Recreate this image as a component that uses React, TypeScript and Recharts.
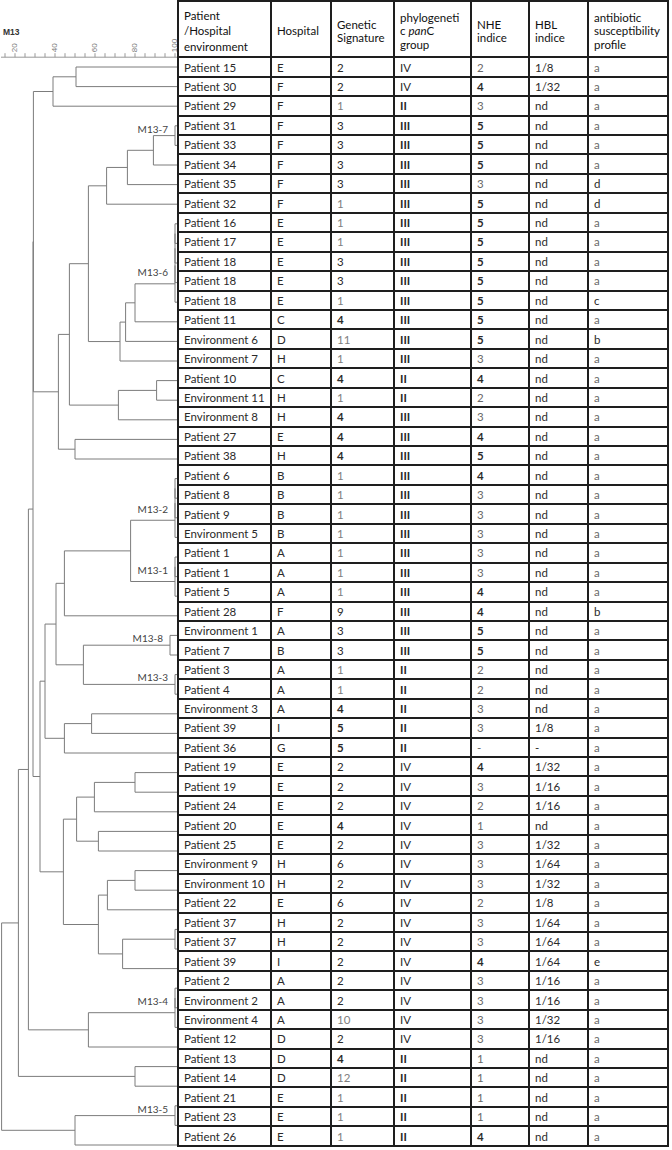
import { ComposedChart, XAxis, YAxis, ReferenceLine, Scatter } from 'recharts';

// table columns, one entry per dendrogram leaf (top to bottom)
const isolates = [
    'Patient 15', 'Patient 30', 'Patient 29', 'Patient 31', 'Patient 33', 'Patient 34', 'Patient 35', 'Patient 32',
    'Patient 16', 'Patient 17', 'Patient 18', 'Patient 18', 'Patient 18', 'Patient 11', 'Environment 6', 'Environment 7',
    'Patient 10', 'Environment 11', 'Environment 8', 'Patient 27', 'Patient 38', 'Patient 6', 'Patient 8', 'Patient 9',
    'Environment 5', 'Patient 1', 'Patient 1', 'Patient 5', 'Patient 28', 'Environment 1', 'Patient 7', 'Patient 3',
    'Patient 4', 'Environment 3', 'Patient 39', 'Patient 36', 'Patient 19', 'Patient 19', 'Patient 24', 'Patient 20',
    'Patient 25', 'Environment 9', 'Environment 10', 'Patient 22', 'Patient 37', 'Patient 37', 'Patient 39', 'Patient 2',
    'Environment 2', 'Environment 4', 'Patient 12', 'Patient 13', 'Patient 14', 'Patient 21', 'Patient 23', 'Patient 26',
];
const hospitals = [
    'E', 'F', 'F', 'F', 'F', 'F', 'F', 'F', 'E', 'E', 'E', 'E', 'E', 'C', 'D', 'H',
    'C', 'H', 'H', 'E', 'H', 'B', 'B', 'B', 'B', 'A', 'A', 'A', 'F', 'A', 'B', 'A',
    'A', 'A', 'I', 'G', 'E', 'E', 'E', 'E', 'E', 'H', 'H', 'E', 'H', 'H', 'I', 'A',
    'A', 'A', 'D', 'D', 'D', 'E', 'E', 'E',
];
const signatures = [
    '2', '2', '1', '3', '3', '3', '3', '1', '1', '1', '3', '3', '1', '4', '11', '1',
    '4', '1', '4', '4', '4', '1', '1', '1', '1', '1', '1', '1', '9', '3', '3', '1',
    '1', '4', '5', '5', '2', '2', '2', '4', '2', '6', '2', '6', '2', '2', '2', '2',
    '2', '10', '2', '4', '12', '1', '1', '1',
];
const panCGroups = [
    'IV', 'IV', 'II', 'III', 'III', 'III', 'III', 'III', 'III', 'III', 'III', 'III', 'III', 'III', 'III', 'III',
    'II', 'II', 'III', 'III', 'III', 'III', 'III', 'III', 'III', 'III', 'III', 'III', 'III', 'III', 'III', 'II',
    'II', 'II', 'II', 'II', 'IV', 'IV', 'IV', 'IV', 'IV', 'IV', 'IV', 'IV', 'IV', 'IV', 'IV', 'IV',
    'IV', 'IV', 'IV', 'II', 'II', 'II', 'II', 'II',
];
const nheIndex = [
    '2', '4', '3', '5', '5', '5', '3', '5', '5', '5', '5', '5', '5', '5', '5', '3',
    '4', '2', '3', '4', '5', '4', '3', '3', '3', '3', '3', '4', '4', '5', '5', '2',
    '2', '3', '3', '-', '4', '3', '2', '1', '3', '3', '3', '2', '3', '3', '4', '3',
    '3', '3', '3', '1', '1', '1', '1', '4',
];
const hblIndex = [
    '1/8', '1/32', 'nd', 'nd', 'nd', 'nd', 'nd', 'nd', 'nd', 'nd', 'nd', 'nd', 'nd', 'nd', 'nd', 'nd',
    'nd', 'nd', 'nd', 'nd', 'nd', 'nd', 'nd', 'nd', 'nd', 'nd', 'nd', 'nd', 'nd', 'nd', 'nd', 'nd',
    'nd', 'nd', '1/8', '-', '1/32', '1/16', '1/16', 'nd', '1/32', '1/64', '1/32', '1/8', '1/64', '1/64', '1/64', '1/16',
    '1/16', '1/32', '1/16', 'nd', 'nd', 'nd', 'nd', 'nd',
];
const profiles = [
    'a', 'a', 'a', 'a', 'a', 'a', 'd', 'd', 'a', 'a', 'a', 'a', 'c', 'a', 'b', 'a',
    'a', 'a', 'a', 'a', 'a', 'a', 'a', 'a', 'a', 'a', 'a', 'a', 'b', 'a', 'a', 'a',
    'a', 'a', 'a', 'a', 'a', 'a', 'a', 'a', 'a', 'a', 'a', 'a', 'a', 'a', 'e', 'a',
    'a', 'a', 'a', 'a', 'a', 'a', 'a', 'a',
];

// dendrogram: [node, child, child, similarity %]; numeric children are table rows (1-based)
type Ref = number | string;
const merges: [string, Ref, Ref, number][] = [
    ['m1', 1, 2, 50.5], ['m2', 'm1', 3, 39],
    ['m3', 4, 5, 100], ['m4', 'm3', 6, 89.2], ['m5', 'm4', 7, 76.2], ['m6', 'm5', 8, 65.8],
    ['m7', 9, 10, 100], ['m8', 'm7', 11, 100], ['m9', 'm8', 12, 100], ['m10', 'm9', 13, 100],
    ['m11', 'm10', 14, 80], ['m12', 'm11', 15, 75.3], ['m13', 'm12', 16, 72.5], ['m14', 'm6', 'm13', 56.7],
    ['m15', 17, 18, 90.8], ['m16', 'm15', 19, 71.7], ['m17', 'm14', 'm16', 47.2],
    ['m18', 20, 21, 50], ['m19', 'm17', 'm18', 41.7], ['m20', 'm2', 'm19', 29.2],
    ['m21', 22, 23, 100], ['m22', 'm21', 24, 100], ['m23', 'm22', 25, 100],
    ['m24', 26, 27, 100], ['m25', 'm24', 28, 100], ['m26', 'm23', 'm25', 77.8], ['m27', 'm26', 29, 44.7],
    ['m28', 30, 31, 97.5], ['m29', 32, 33, 100], ['m30', 'm28', 'm29', 54.2], ['m31', 'm27', 'm30', 40.5],
    ['m32', 34, 35, 58.3], ['m33', 'm32', 36, 44.7], ['m34', 'm31', 'm33', 35],
    ['m35', 37, 38, 80], ['m36', 'm35', 39, 59.7], ['m37', 40, 41, 61.7], ['m38', 'm36', 'm37', 50.8],
    ['m39', 42, 43, 80], ['m40', 'm39', 44, 66.2], ['m41', 45, 46, 100], ['m42', 'm41', 47, 73.8],
    ['m43', 'm40', 'm42', 61.7], ['m44', 'm38', 'm43', 44.2], ['m45', 'm34', 'm44', 32.5],
    ['m46', 'm20', 'm45', 29.0],
    ['m47', 48, 49, 100], ['m48', 'm47', 50, 100], ['m49', 'm48', 51, 56.7], ['m50', 'm46', 'm49', 26.7],
    ['m51', 52, 53, 80], ['m52', 'm50', 'm51', 21.7],
    ['m53', 54, 55, 100], ['m54', 'm53', 56, 50], ['m55', 'm52', 'm54', 13.3],
];

const clusterNames = ['M13-7', 'M13-6', 'M13-2', 'M13-1', 'M13-8', 'M13-3', 'M13-4', 'M13-5'];
const clusterNodes = ['m3', 'm10', 'm23', 'm25', 'm28', 'm29', 'm48', 'm53'];

const scaleTicks = [15, 20, 25, 30, 35, 40, 45, 50, 55, 60, 65, 70, 75, 80, 85, 90, 95, 100];

const LEAF_END = 101.5;
const ROW_H = 19.44;
const HEAD_H = 56.3;
const LEAF_PITCH = 19.6;
const TOP = 57.2;
const LINE = '#7c7c7c';
const FONT = 'Lato, "Open Sans", sans-serif';

function buildTree() {
    const byId = new Map(merges.map((m) => [m[0], m]));
    const pos = new Map<string, { x: number; y: number; n: number }>();
    const get = (r: Ref): { x: number; y: number; n: number } => {
        if (typeof r === 'number') return { x: LEAF_END, y: r, n: 1 };
        const hit = pos.get(r);
        if (hit) return hit;
        const [, a, b, s] = byId.get(r)!;
        const pa = get(a);
        const pb = get(b);
        const p = { x: s, y: (pa.y + pb.y) / 2, n: pa.n + pb.n };
        pos.set(r, p);
        return p;
    };
    const segs: { x: number; y: number }[][] = [];
    merges.forEach(([, a, b, s]) => {
        const pa = get(a);
        const pb = get(b);
        segs.push([{ x: s, y: pa.y }, { x: s, y: pb.y }]);
        if (pa.x > s) segs.push([{ x: s, y: pa.y }, { x: pa.x, y: pa.y }]);
        if (pb.x > s) segs.push([{ x: s, y: pb.y }, { x: pb.x, y: pb.y }]);
    });
    const labels = clusterNodes.map((id, i) => ({ ...get(id), name: clusterNames[i] }));
    return { segs, labels };
}

const ScaleTick = (props: any) => {
    const { x, y, payload } = props;
    if (payload.value % 20 !== 0) return <g />;
    return (
        <text
            x={x}
            y={y}
            transform={`rotate(-90 ${x} ${y})`}
            textAnchor="start"
            dominantBaseline="central"
            fontSize={8}
            fontFamily="'Liberation Sans', Arial, sans-serif"
            fill="#7a7a7a"
        >
            {payload.value}
        </text>
    );
};

const ClusterLabel = (props: any) => {
    const { cx, cy, payload } = props;
    return (
        <text
            x={cx - 7}
            y={cy - (payload.n > 2 ? 11.5 : 7)}
            textAnchor="end"
            dominantBaseline="central"
            fontSize={10}
            fontFamily={FONT}
            fill="#444"
        >
            {payload.name}
        </text>
    );
};

function Dendrogram() {
    const { segs, labels } = buildTree();
    const yMax = 56.25;
    const plotH = (yMax - 0.5) * LEAF_PITCH;
    return (
        <ComposedChart width={178} height={1150} margin={{ top: TOP - 30, right: 0, bottom: 1150 - TOP - plotH, left: 1 }}>
            <XAxis
                type="number"
                dataKey="x"
                orientation="top"
                domain={[13, LEAF_END]}
                allowDataOverflow
                ticks={scaleTicks}
                interval={0}
                height={30}
                tickSize={4}
                tickMargin={1}
                tick={<ScaleTick />}
                axisLine={{ stroke: '#999' }}
                tickLine={{ stroke: '#999' }}
            />
            <YAxis type="number" dataKey="y" domain={[0.5, yMax]} reversed hide allowDataOverflow />
            {segs.map((s, i) => (
                <ReferenceLine key={i} segment={s} stroke={LINE} strokeWidth={1} ifOverflow="visible" />
            ))}
            <Scatter data={labels} shape={<ClusterLabel />} isAnimationActive={false} />
        </ComposedChart>
    );
}

const colWidths = [93, 60, 63, 77, 58, 59, 80];

const cellStyle = (value: string, col: number): React.CSSProperties => {
    let weight = 400;
    let color = '#2a2a2a';
    if (col === 2) {
        if (value === '4' || value === '5') weight = 700;
        if (['1', '10', '11', '12'].includes(value)) color = '#808080';
    }
    if (col === 3 && value !== 'IV') weight = 700;
    if (col === 4) {
        if (value === '4' || value === '5') weight = 700;
        else color = '#6a6a6a';
    }
    if (col === 6 && value === 'a') color = '#6a6a6a';
    return { fontWeight: weight, color };
};

function DataTable() {
    const border = '2px solid #1e1e1e';
    const header = [
        <span style={{ lineHeight: '15.5px' }}>Patient<br />/Hospital<br />environment</span>,
        <span>Hospital</span>,
        <span>Genetic<br />Signature</span>,
        <span>phylogeneti<br />c <i>pan</i>C<br />group</span>,
        <span>NHE<br />indice</span>,
        <span>HBL<br />indice</span>,
        <span>antibiotic<br />susceptibility<br />profile</span>,
    ];
    const columns = [isolates, hospitals, signatures, panCGroups, nheIndex, hblIndex, profiles];
    const cells: React.ReactNode[] = [];
    header.forEach((h, c) =>
        cells.push(
            <div
                key={`h${c}`}
                style={{
                    borderRight: border,
                    borderBottom: border,
                    display: 'flex',
                    alignItems: 'center',
                    paddingLeft: 5,
                    paddingTop: 4,
                    lineHeight: '13.5px',
                    color: '#111',
                    boxSizing: 'border-box',
                }}
            >
                {h}
            </div>
        )
    );
    isolates.forEach((_, r) =>
        columns.forEach((col, c) =>
            cells.push(
                <div
                    key={`${r}-${c}`}
                    style={{
                        borderRight: border,
                        borderBottom: border,
                        display: 'flex',
                        alignItems: 'center',
                        paddingLeft: 5,
                        whiteSpace: 'nowrap',
                        overflow: 'hidden',
                        boxSizing: 'border-box',
                        ...cellStyle(col[r], c),
                    }}
                >
                    {col[r]}
                </div>
            )
        )
    );
    return (
        <div
            style={{
                position: 'absolute',
                left: 177,
                top: 0,
                display: 'grid',
                gridTemplateColumns: colWidths.map((w) => `${w}px`).join(' '),
                gridTemplateRows: `${HEAD_H}px repeat(${isolates.length}, ${ROW_H}px)`,
                borderLeft: border,
                borderTop: border,
                fontFamily: FONT,
                fontSize: 11.5,
                background: '#fff',
            }}
        >
            {cells}
        </div>
    );
}

export default function App() {
    return (
        <div style={{ position: 'absolute', left: 0, top: 0, width: 672, height: 1150, background: '#fff', overflow: 'hidden' }}>
            <div
                style={{
                    position: 'absolute',
                    left: 3,
                    top: 27,
                    fontFamily: "'Liberation Sans', Arial, sans-serif",
                    fontWeight: 700,
                    fontSize: 8.5,
                    color: '#333',
                }}
            >
                M13
            </div>
            <div style={{ position: 'absolute', left: 0, top: 0 }}>
                <Dendrogram />
            </div>
            <DataTable />
        </div>
    );
}
